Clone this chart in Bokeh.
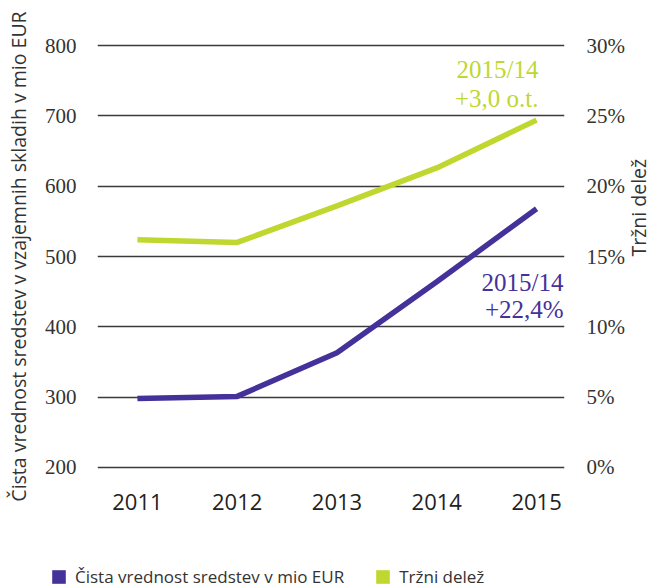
import math
from bokeh.plotting import figure
from bokeh.layouts import column
from bokeh.models import (Range1d, LinearAxis, FixedTicker, Legend, LegendItem, Label,
                          CustomJSTickFormatter)
from bokeh.embed import file_html
from bokeh.resources import INLINE

years = [2011, 2012, 2013, 2014, 2015]
assets = [298, 301, 363, 464, 568]          # mio EUR (left axis)
share = [16.2, 16.0, 18.6, 21.3, 24.7]      # % (right axis)
left_ticks = [200, 300, 400, 500, 600, 700, 800]
right_ticks = [0, 5, 10, 15, 20, 25, 30]
name_assets = "Čista vrednost sredstev v mio EUR"
name_share = "Tržni delež"
left_title = "Čista vrednost sredstev v vzajemnih skladih v mio EUR"
note_share = ["2015/14", "+3,0 o.t."]
note_assets = ["2015/14", "+22,4%"]

PURPLE = "#45319a"
GREEN = "#c0d72f"
GRID = "#3a3a3a"
TXT = "#333333"
SERIF = "Liberation Serif"
SANS = "Open Sans"

p = figure(width=668, height=529, output_backend="svg", toolbar_location=None,
           x_range=Range1d(2010.60, 2015.28), y_range=Range1d(197, 803),
           min_border_left=97, min_border_right=102, min_border_top=43, min_border_bottom=60)
p.frame_align = False
p.outline_line_color = None
p.extra_y_ranges = {"share": Range1d(-0.15, 30.15)}

p.xgrid.visible = False
p.ygrid.ticker = FixedTicker(ticks=left_ticks)
p.ygrid.grid_line_color = GRID
p.ygrid.grid_line_width = 1.3

def style(ax):
    ax.axis_line_color = None
    ax.major_tick_line_color = None
    ax.minor_tick_line_color = None

la = p.yaxis[0]
la.ticker = FixedTicker(ticks=left_ticks)
style(la)
la.major_label_text_font = SERIF
la.major_label_text_font_size = "21px"
la.major_label_text_color = TXT
la.major_label_standoff = 15
la.axis_label = left_title
la.axis_label_text_font = SANS
la.axis_label_text_font_size = "19.5px"
la.axis_label_text_font_style = "normal"
la.axis_label_text_color = TXT
la.axis_label_standoff = 10

ra = LinearAxis(y_range_name="share", ticker=FixedTicker(ticks=right_ticks))
style(ra)
ra.formatter = CustomJSTickFormatter(code="return tick + '%';")
ra.major_label_text_font = SERIF
ra.major_label_text_font_size = "21px"
ra.major_label_text_color = TXT
ra.major_label_standoff = 16
ra.axis_label = name_share
ra.axis_label_orientation = math.pi / 2
ra.axis_label_text_font = SANS
ra.axis_label_text_font_size = "19.5px"
ra.axis_label_text_font_style = "normal"
ra.axis_label_text_color = TXT
ra.axis_label_standoff = 11
p.add_layout(ra, "right")

xa = p.xaxis[0]
xa.ticker = FixedTicker(ticks=years)
style(xa)
xa.major_label_text_font = SANS
xa.major_label_text_font_size = "22px"
xa.major_label_text_color = "#222222"
xa.major_label_standoff = 18

p.line(years, assets, line_color=PURPLE, line_width=5.5)
p.line(years, share, line_color=GREEN, line_width=5.5, y_range_name="share")

for txt, yv in zip(note_share, [766, 725]):
    p.add_layout(Label(x=years[-1], y=yv, text=txt, x_offset=2, text_align="right",
                       text_baseline="middle", text_font=SERIF, text_font_size="25px",
                       text_color=GREEN))
for txt, yv in zip(note_assets, [463, 425]):
    p.add_layout(Label(x=years[-1], y=yv, text=txt, x_offset=27, text_align="right",
                       text_baseline="middle", text_font=SERIF, text_font_size="25px",
                       text_color=PURPLE))

# legend strip below the chart
lg = figure(width=668, height=57, output_backend="svg", toolbar_location=None,
            x_axis_type=None, y_axis_type=None,
            x_range=Range1d(0, 1), y_range=Range1d(0, 1),
            min_border_left=0, min_border_right=0, min_border_top=0, min_border_bottom=0)
lg.frame_align = False
lg.outline_line_color = None
lg.grid.visible = False
nan = [math.nan]
r1 = lg.quad(left=nan, right=nan, top=nan, bottom=nan, fill_color=PURPLE, line_color=None)
r2 = lg.quad(left=nan, right=nan, top=nan, bottom=nan, fill_color=GREEN, line_color=None)
legend = Legend(items=[LegendItem(label=name_assets, renderers=[r1]),
                       LegendItem(label=name_share, renderers=[r2])],
                orientation="horizontal", location=(50, -1.5),
                glyph_width=17, glyph_height=17, label_standoff=8, spacing=30,
                padding=0, margin=0, border_line_color=None, background_fill_alpha=0,
                label_text_font=SANS, label_text_font_size="17px", label_text_color=TXT)
lg.add_layout(legend)

open("out.html", "w").write(file_html(column(p, lg), INLINE))
